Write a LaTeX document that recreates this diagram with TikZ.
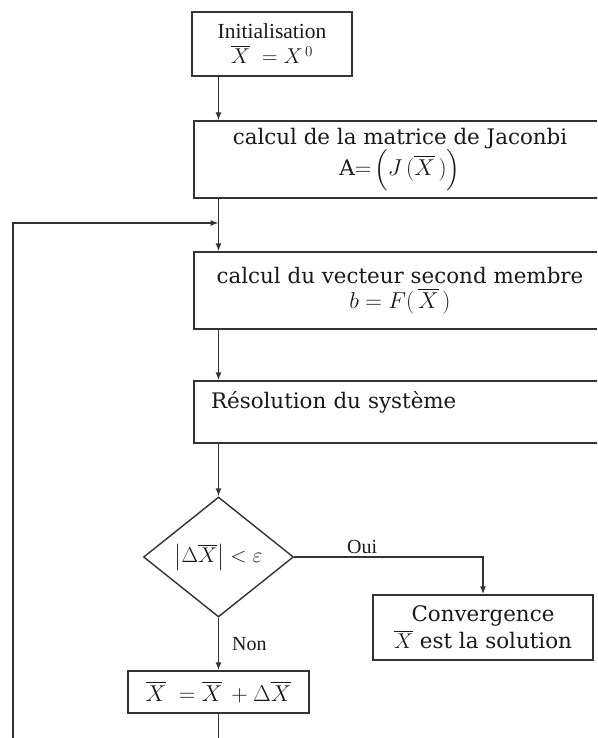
\documentclass[tikz,border=0pt]{standalone}
\usepackage{fix-cm}
\usepackage{amsmath,amssymb}
\usepackage{fontspec}
\setmainfont{DejaVu Serif}
\newfontfamily\timesfont{Liberation Serif}
\usetikzlibrary{arrows.meta,shapes.geometric}

\newcommand{\bigmath}[1]{{\fontsize{23}{26}\selectfont #1}}

\begin{document}
\begin{tikzpicture}[x=1pt, y=-1pt, >={Latex[length=8pt,width=6pt]}, line width=1.4pt, draw=black!80,
	every node/.style={font=\fontsize{21.4}{25}\selectfont, inner sep=0pt, text=black!90},
	stepbox/.style={draw=black!80, line width=1.4pt, align=center},
	lbl/.style={font=\timesfont\fontsize{20}{22}\selectfont}]
	\useasboundingbox (0,0) rectangle (597,738);
	\clip (0,0) rectangle (597,738);
	\coordinate (spine) at (218.5,0);
	\node[stepbox, minimum width=160, minimum height=64, font=\timesfont\fontsize{21.5}{24}\selectfont] (init) at (272,44) {Initialisation\\[1pt] $\overline{X}\;=X^{\,0}$};
	\node[stepbox, minimum width=412, minimum height=77] (jacobi) at (400,159.5) {calcul de la matrice de Jaconbi\\[-1pt] A\bigmath{$=\!\Bigl(J\,(\overline{X}\,)\Bigr)$}};
	\node[stepbox, minimum width=412, minimum height=77] (rhs) at (400,290.5) {calcul du vecteur second membre\\ \bigmath{$b=F(\,\overline{X}\,)$}};
	\node[stepbox, minimum width=412, minimum height=62, text width=378, inner xsep=17, align=left] (solve) at (400,412) {Résolution du système\\ \mbox{}};
	\node[stepbox, shape=diamond, aspect=1.25, minimum width=150, minimum height=120] (test) at (218.5,557) {$\left|\Delta\overline{X}\right|<\varepsilon$};
	\node[stepbox, minimum width=220, minimum height=65] (conv) at (483,627.5) {Convergence\\[2pt] $\overline{X}$ est la solution};
	\node[stepbox, minimum width=181, minimum height=42] (update) at (218.5,692) {\bigmath{$\overline{X}\;=\overline{X}\,+\Delta\overline{X}$}};
	\coordinate (join) at (218.5,223);
	\coordinate (loopcorner) at (13,760);
	\draw[->] (init.south -| spine) -- (jacobi.north -| spine);
	\draw[->] (jacobi.south -| spine) -- (rhs.north -| spine);
	\draw[->] (rhs.south -| spine) -- (solve.north -| spine);
	\draw[->] (solve.south -| spine) -- (test.north);
	\draw[->] (test.east) -- node[lbl, above=3pt, pos=0.36] {Oui} (test.east -| conv.north) -- (conv.north);
	\draw[->] (test.south) -- node[lbl, right, xshift=13pt] {Non} (update.north);
	\draw[->] (update.south) |- (loopcorner) |- (join);
\end{tikzpicture}
\end{document}
